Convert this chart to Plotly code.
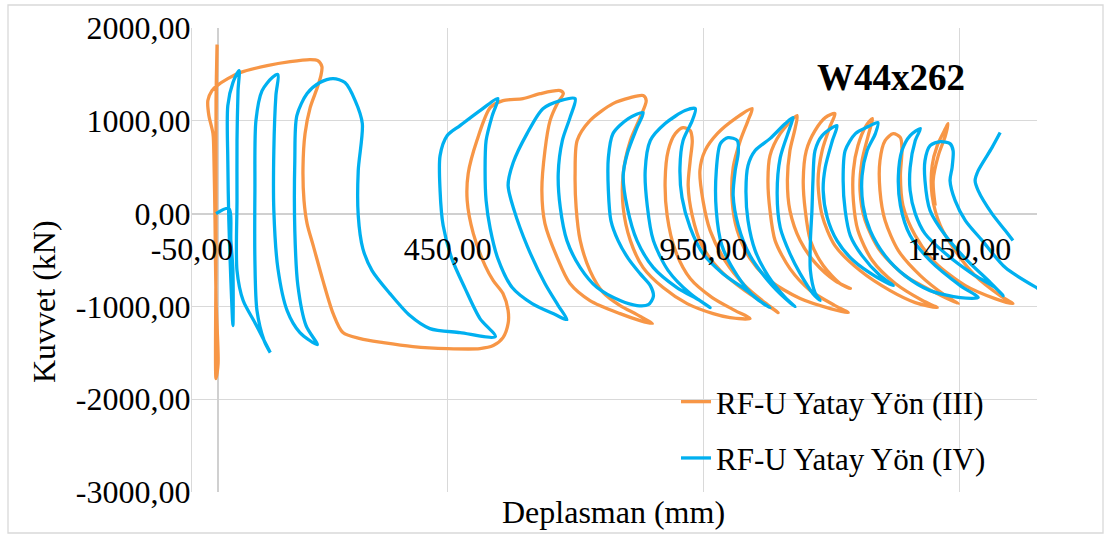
import plotly.graph_objects as go

# ---------------- data ----------------
# Deplasman (mm) / Kuvvet (kN) for RF-U Yatay Yön (III)
orange_disp = [
    -3, -3, -1, -3, -3, -3, 1, -3, -5, -7, -9,
    -17, -19, -11, -1, 20, 44, 97, 142, 181, 196, 204, 202,
    195, 181, 171, 167, 169, 175, 187, 206, 226, 245, 279, 324, 382, 449, 513, 539, 558, 568,
    568, 558, 539, 523, 500, 488, 490, 507, 533, 558, 597, 631, 670, 676,
    664, 650, 640, 634, 640, 664, 689, 728, 787, 826, 850,
    820, 787, 754, 728, 709, 701, 699, 703, 728, 773, 807, 832, 838,
    826, 807, 793, 793, 807, 832, 871, 918, 969, 1002, 1041,
    1012, 967, 924, 895, 879, 875, 881, 895, 910, 924,
    928, 924, 920, 928, 947, 983, 1031, 1070, 1096,
    1070, 1031, 992, 963, 949, 943, 953, 977, 1012, 1045,
    1037, 1022, 1008, 1006, 1016, 1041, 1080, 1139, 1198, 1233,
    1207, 1159, 1119, 1090, 1080, 1076, 1080, 1100, 1133,
    1129, 1119, 1114, 1119, 1139, 1168, 1207, 1237,
    1217, 1184, 1159, 1149, 1145, 1151, 1168, 1188, 1207,
    1198, 1182, 1174, 1182, 1207, 1256, 1315, 1364, 1407,
    1378, 1325, 1280, 1252, 1243, 1243, 1252, 1268, 1280,
    1272, 1260, 1256, 1266, 1295, 1344, 1403, 1448,
    1423, 1374, 1331, 1305, 1295, 1295, 1305, 1321, 1335,
    1338, 1335, 1340, 1364, 1403, 1462, 1520, 1555,
    1530, 1481, 1442, 1413, 1397, 1397, 1407, 1423, 1428,
    1423, 1409, 1399, 1403,
]
orange_force = [
    0, 1002, 1821, 1218, -399, -1778, -1616, -937, -75, 571, 862,
    1056, 1218, 1325, 1379, 1455, 1519, 1595, 1638, 1660, 1649, 1584, 1487,
    1358, 1142, 862, 496, 140, -108, -345, -722, -1078, -1282, -1347, -1390, -1433, -1455, -1455, -1422, -1336, -1185,
    -1045, -862, -722, -560, -216, 140, 431, 787, 1142, 1218, 1239, 1293, 1325, 1293,
    1185, 1002, 679, 248, -108, -474, -754, -937, -1078, -1153, -1185,
    -1088, -991, -851, -614, -291, 65, 431, 787, 1002, 1185, 1250, 1272, 1218,
    1034, 787, 431, 65, -291, -582, -797, -970, -1078, -1121, -1131,
    -1045, -905, -700, -399, -22, 356, 679, 862, 927, 894,
    787, 571, 302, -22, -345, -614, -830, -970, -1067,
    -959, -776, -506, -183, 140, 463, 679, 862, 1024, 1131,
    1002, 787, 496, 140, -183, -485, -722, -916, -1024, -1067,
    -991, -830, -593, -291, 32, 356, 625, 862, 1056,
    916, 679, 356, 32, -291, -528, -722, -808,
    -754, -560, -291, 32, 356, 679, 894, 1034, 1078,
    948, 679, 356, -22, -345, -614, -830, -959, -1013,
    -937, -754, -506, -183, 140, 463, 733, 948, 1024,
    841, 571, 248, -75, -399, -668, -851, -970,
    -884, -668, -399, -75, 248, 571, 787, 862, 819,
    679, 409, 86, -237, -528, -776, -916, -970,
    -884, -668, -399, -129, 194, 517, 733, 916, 970,
    841, 625, 356, 86,
]

# Deplasman (mm) / Kuvvet (kN) for RF-U Yatay Yön (IV)
blue_disp = [
    -3, 22, 26, 30, 30, 26, 22, 20, 20, 30, 42,
    40, 38, 38, 38, 50, 73, 89, 103,
    91, 77, 73, 73, 75, 87, 107, 118,
    114, 110, 110, 118, 136, 161, 195,
    173, 157, 151, 151, 155, 175, 200, 226,
    249, 269, 283, 275, 275, 284, 302, 337, 376, 415, 474, 543,
    513, 484, 458, 441, 435, 435, 449, 474, 513, 548,
    537, 525, 523, 525, 533, 548, 576, 615, 660, 683,
    666, 640, 605, 580, 568, 578, 605, 636, 670, 699,
    689, 674, 666, 670, 683, 709, 742, 787, 820, 842,
    852, 846, 826, 803, 783, 769, 764, 764, 773, 803, 832,
    820, 801, 793, 801, 820, 852, 898, 943, 963,
    924, 881, 852, 840, 836, 846, 875, 914, 934,
    928, 910, 904, 908, 924, 949, 988, 1035, 1067, 1080,
    1051, 1016, 986, 975, 975, 983, 998, 1016,
    1018, 1012, 1008, 1018, 1041, 1076, 1110, 1129,
    1110, 1076, 1051, 1037, 1033, 1037, 1051, 1080, 1110, 1125,
    1119, 1100, 1094, 1100, 1119, 1139, 1164, 1178,
    1168, 1159, 1159, 1162, 1164, 1168, 1182, 1211,
    1202, 1188, 1184, 1192, 1211, 1243, 1290, 1321,
    1295, 1260, 1237, 1227, 1223, 1227, 1247, 1272, 1291,
    1286, 1270, 1260, 1262, 1276, 1305, 1344, 1393, 1452, 1487,
    1452, 1393, 1354, 1335, 1331, 1338, 1354, 1374,
    1364, 1354, 1354, 1364, 1383, 1423, 1475, 1520, 1536,
    1511, 1462, 1423, 1393, 1383, 1383, 1393, 1413, 1432, 1438,
    1436, 1432, 1442, 1462, 1495, 1540, 1604, 1647,
    None,
    1530, 1514, 1487, 1481, 1487, 1514, 1540, 1555,
]
blue_force = [
    0, 54, -291, -614, -1207, -722, -75, 571, 1164, 1412, 1541,
    1325, 787, 140, -614, -937, -1175, -1347, -1498,
    -1369, -1045, -506, 248, 1002, 1325, 1466, 1498,
    1272, 679, 32, -593, -1045, -1282, -1412,
    -1207, -776, -183, 571, 1056, 1293, 1412, 1455,
    1412, 1218, 970, 463, -22, -377, -614, -862, -1099, -1239, -1282, -1325,
    -1131, -808, -485, -129, 248, 625, 841, 948, 1110, 1239,
    1056, 787, 463, 140, -162, -485, -797, -970, -1088, -1142,
    -991, -754, -345, 32, 302, 550, 862, 1131, 1218, 1239,
    1034, 787, 431, 65, -291, -582, -797, -937, -991, -981,
    -894, -776, -647, -485, -291, -75, 248, 603, 862, 1024, 1088,
    927, 647, 409, 65, -291, -582, -797, -937, -1013,
    -862, -614, -291, 86, 463, 787, 970, 1110, 1131,
    1002, 787, 496, 172, -151, -431, -647, -830, -970, -1013,
    -905, -668, -345, 32, 463, 754, 819, 787,
    657, 463, 194, -129, -453, -722, -916, -1002,
    -905, -668, -399, -75, 248, 517, 679, 808, 970, 1034,
    927, 603, 216, -151, -431, -647, -862, -937,
    -851, -614, -291, 32, 356, 679, 841, 948,
    787, 496, 248, -43, -291, -506, -690, -776,
    -668, -453, -237, 32, 356, 679, 862, 938, 981,
    862, 679, 409, 86, -183, -453, -668, -830, -905, -905,
    -776, -506, -237, 86, 409, 679, 841, 916,
    787, 496, 248, 0, -216, -431, -647, -797, -884,
    -744, -485, -237, 32, 356, 571, 733, 776, 754, 679,
    496, 356, 140, -75, -291, -582, -808, -937,
    None,
    873, 711, 463, 356, 248, 0, -183, -291,
]

series_names = ["RF-U Yatay Yön (III)", "RF-U Yatay Yön (IV)"]
series_colors = ["#F79646", "#00B0F0"]

x_ticks = [-50, 450, 950, 1450]
x_ticktext = ["-50,00", "450,00", "950,00", "1450,00"]
y_ticks = [-3000, -2000, -1000, 0, 1000, 2000]
y_ticktext = ["-3000,00", "-2000,00", "-1000,00", "0,00", "1000,00", "2000,00"]

chart_title = "W44x262"
x_title = "Deplasman (mm)"
y_title = "Kuvvet (kN)"

assert len(orange_disp) == len(orange_force)
assert len(blue_disp) == len(blue_force)

# ---------------- figure ----------------
FONT = "Liberation Serif, Times New Roman, serif"
GRID = "#d9d9d9"
FS = 32

fig = go.Figure()
for name, color, xs, ys in [
    (series_names[0], series_colors[0], orange_disp, orange_force),
    (series_names[1], series_colors[1], blue_disp, blue_force),
]:
    fig.add_trace(go.Scatter(
        x=xs, y=ys, mode="lines", name=name, legendgroup=name,
        connectgaps=False, hoverinfo="skip",
        line=dict(color=color, width=3.3, shape="spline", smoothing=0.8),
    ))

W, H = 1105, 534
L, R, T, B = 192, 68, 28, 42
pw, ph = W - L - R, H - T - B


def px_x(px):
    return (px - L) / pw


def px_y(py):
    return (H - B - py) / ph


fig.update_layout(
    width=W, height=H, autosize=False,
    margin=dict(l=L, r=R, t=T, b=B, pad=0, autoexpand=False),
    paper_bgcolor="white", plot_bgcolor="white",
    font=dict(family=FONT, size=FS, color="black"),
    showlegend=True,
    legend=dict(
        x=px_x(676), y=px_y(375), xanchor="left", yanchor="top",
        bgcolor="rgba(0,0,0,0)", font=dict(family=FONT, size=31, color="black"),
        traceorder="grouped", tracegroupgap=13,
    ),
    xaxis=dict(
        range=[-50, 1602], tickvals=x_ticks, ticktext=x_ticktext,
        showgrid=True, gridcolor=GRID, gridwidth=1.3,
        zeroline=True, zerolinecolor="#d0d0d0", zerolinewidth=1.5,
        showline=False, ticks="", anchor="free", position=0.6,
        ticklabelstandoff=13, automargin=False,
        tickfont=dict(family=FONT, size=FS, color="black"),
    ),
    yaxis=dict(
        range=[-3000, 2000], tickvals=y_ticks, ticktext=y_ticktext,
        showgrid=True, gridcolor=GRID, gridwidth=1.3,
        zeroline=True, zerolinecolor="#d0d0d0", zerolinewidth=1.5,
        showline=True, linecolor=GRID, linewidth=1.3, ticks="",
        ticklabelstandoff=-6, automargin=False,
        tickfont=dict(family=FONT, size=FS, color="black"),
    ),
    annotations=[
        dict(text=y_title, x=px_x(44), y=px_y(302), xref="paper", yref="paper",
             textangle=-90, showarrow=False, xanchor="center", yanchor="middle",
             font=dict(family=FONT, size=FS, color="black")),
        dict(text=x_title, x=px_x(613), y=px_y(512), xref="paper", yref="paper",
             showarrow=False, xanchor="center", yanchor="middle",
             font=dict(family=FONT, size=FS, color="black")),
        dict(text="<b>" + chart_title + "</b>", x=px_x(891), y=px_y(78), xref="paper", yref="paper",
             showarrow=False, xanchor="center", yanchor="middle",
             font=dict(family=FONT, size=37, color="black")),
    ],
    shapes=[
        dict(type="rect", xref="paper", yref="paper",
             x0=px_x(8), x1=px_x(1103), y0=px_y(533), y1=px_y(5),
             line=dict(color=GRID, width=1.3), fillcolor="rgba(0,0,0,0)", layer="below"),
    ],
)

fig.write_html(
    "out.html",
    config={"displayModeBar": False},
    post_script="document.body.style.margin='0';document.body.style.padding='0';",
)
